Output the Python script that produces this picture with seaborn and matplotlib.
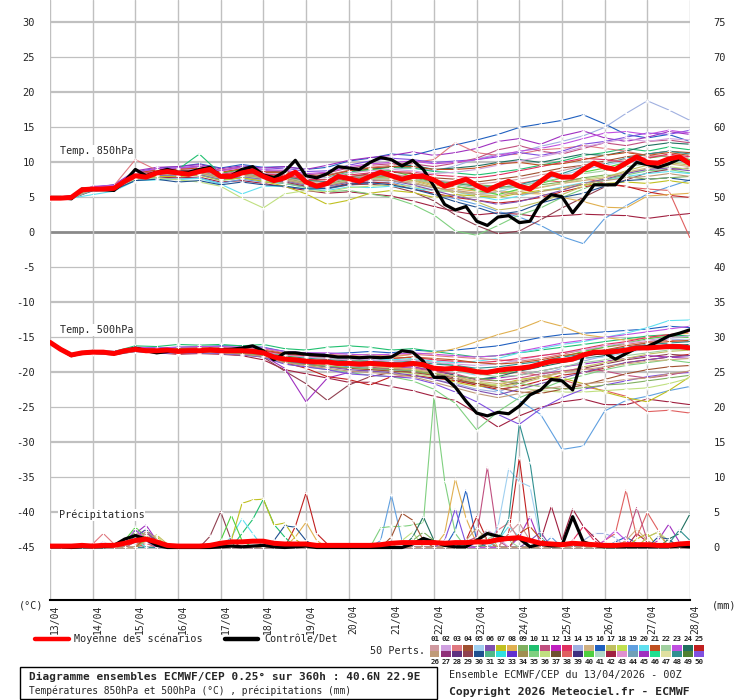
import numpy as np
import pandas as pd
import matplotlib.pyplot as plt
import matplotlib.transforms as mtransforms
from matplotlib.lines import Line2D
from matplotlib.patches import Rectangle
import seaborn as sns

sns.set_style("white")
plt.rcParams['font.family'] = ['DejaVu Sans Mono', 'DejaVu Sans']
plt.rcParams['axes.unicode_minus'] = False

# ---------------- data ----------------
dates = ["13/04", "14/04", "15/04", "16/04", "17/04", "18/04", "19/04", "20/04",
         "21/04", "22/04", "23/04", "24/04", "25/04", "26/04", "27/04", "28/04"]
hours6 = list(range(0, 361, 6))
hours12 = list(range(0, 361, 12))

palette_50 = ["#d09aa0", "#d0a0e0", "#e07880", "#a05030", "#a0d0f0", "#8050b0", "#c0c020", "#e0b050",
              "#80b060", "#20c070", "#c05080", "#c020c0", "#e03060", "#a0b0e0", "#d0b080", "#2060c0",
              "#c0c060", "#c0e050", "#60a0e0", "#60e0f0", "#c05020", "#a0d0a0", "#c050e0", "#207060",
              "#c02020", "#c09a78", "#903078", "#603080", "#904050", "#205090", "#50b888", "#30e0e0",
              "#6030d0", "#a09050", "#80d080", "#c0e080", "#705030", "#e06060", "#403080", "#50d040",
              "#b0d8c8", "#a02040", "#e090d0", "#70a0b8", "#a030c0", "#20e090", "#e0e0a0", "#309090",
              "#508030", "#8050e0"]

# ensemble mean / control, every 6h
mean_t850 = [4.9, 4.9, 5.0, 6.1, 6.2, 6.2, 6.3, 7.3, 8.1, 7.9, 8.5, 8.7, 8.5, 8.3, 8.7, 9.0,
             8.0, 8.0, 8.5, 8.8, 8.0, 7.4, 7.8, 8.6, 7.2, 6.6, 7.0, 8.0, 7.7, 7.3, 8.0, 8.6,
             8.1, 7.6, 8.0, 8.0, 7.5, 6.6, 7.1, 7.6, 6.7, 6.0, 6.7, 7.3, 6.6, 6.2, 7.3, 8.4,
             7.9, 7.9, 9.0, 9.9, 9.3, 9.0, 9.9, 10.8, 10.0, 9.9, 10.5, 10.8, 9.8]
ctrl_t850 = [5.0, 5.0, 4.8, 6.2, 6.1, 6.1, 6.0, 7.3, 9.0, 8.1, 8.6, 9.0, 8.6, 8.6, 9.0, 9.3,
             8.0, 8.1, 9.0, 9.4, 8.2, 7.8, 8.7, 10.3, 8.1, 7.8, 8.4, 9.4, 9.2, 9.0, 10.0, 10.7,
             10.4, 9.5, 10.3, 9.0, 6.6, 4.0, 3.2, 3.7, 1.6, 1.0, 2.2, 2.4, 1.4, 1.6, 4.2, 5.4,
             5.1, 2.8, 4.7, 6.8, 6.8, 6.8, 8.5, 10.0, 9.7, 9.3, 9.8, 10.5, 10.0]
mean_t500 = [-15.7, -16.7, -17.5, -17.2, -17.1, -17.1, -17.3, -16.9, -16.7, -16.9, -16.9, -16.8,
             -17.0, -16.9, -16.9, -16.8, -16.9, -16.9, -16.9, -17.0, -17.2, -17.8, -18.1, -18.2,
             -18.4, -18.5, -18.5, -18.7, -18.7, -18.8, -18.7, -18.8, -18.9, -18.9, -18.7, -18.9,
             -19.4, -19.5, -19.4, -19.6, -19.9, -20.0, -19.7, -19.5, -19.4, -19.2, -18.8, -18.4,
             -18.3, -18.1, -17.5, -17.1, -17.1, -17.0, -16.8, -16.5, -16.5, -16.4, -16.3, -16.3, -16.5]
ctrl_t500 = [-15.7, -16.7, -17.6, -17.2, -17.0, -17.1, -17.3, -17.0, -16.5, -16.9, -17.2, -17.0,
             -16.9, -17.0, -16.9, -16.7, -16.8, -16.7, -16.5, -16.2, -16.9, -18.2, -17.2, -17.2,
             -17.4, -17.5, -17.6, -17.8, -17.8, -17.9, -17.8, -17.9, -17.8, -16.9, -17.1, -18.4,
             -20.7, -20.7, -22.1, -24.1, -25.8, -26.2, -25.7, -25.9, -24.8, -23.2, -22.5, -21.0,
             -21.2, -22.5, -17.5, -17.3, -17.2, -18.1, -17.3, -16.5, -16.3, -15.6, -14.8, -14.4, -13.9]
mean_rr = [0.2, 0.2, 0.2, 0.3, 0.2, 0.3, 0.3, 0.6, 1.0, 1.2, 0.8, 0.3, 0.2, 0.2, 0.2, 0.3,
           0.6, 0.8, 0.8, 0.9, 0.9, 0.6, 0.5, 0.5, 0.5, 0.3, 0.3, 0.3, 0.3, 0.3, 0.3, 0.4,
           0.6, 0.7, 0.7, 0.7, 0.7, 0.6, 0.7, 0.7, 0.8, 0.8, 1.1, 1.3, 1.4, 1.0, 0.6, 0.5,
           0.4, 0.6, 0.5, 0.4, 0.3, 0.3, 0.4, 0.4, 0.4, 0.3, 0.3, 0.5, 0.6]
ctrl_rr = [0.1, 0.1, 0.0, 0.1, 0.1, 0.1, 0.3, 1.2, 1.7, 1.2, 0.3, 0.0, 0.0, 0.0, 0.0, 0.0,
           0.1, 0.2, 0.1, 0.2, 0.3, 0.1, 0.0, 0.1, 0.2, 0.0, 0.0, 0.0, 0.0, 0.0, 0.0, 0.0,
           0.0, 0.0, 0.5, 1.3, 0.8, 0.3, 0.1, 0.1, 1.0, 2.0, 1.6, 1.2, 1.3, 0.1, 0.5, 0.2,
           0.3, 4.4, 0.8, 0.3, 0.1, 0.1, 0.1, 0.1, 0.1, 0.1, 0.1, 0.2, 0.1]

# perturbed members (palette number), temperatures every 12h
member_ids = [16, 14, 42, 19, 38, 35, 29, 45, 25, 10, 8, 20, 7, 36, 24, 3, 30, 50, 40, 17, 11, 5, 4, 48,
              1, 2, 6, 9, 13, 15, 21, 22, 23, 26]

t850_members = [
    [4.9, 5.2, 6.4, 6.8, 8.6, 9.2, 9.4, 9.8, 9.2, 9.7, 9.3, 9.4, 9.0, 9.3, 10.2, 10.6, 11.2, 11.0, 11.8, 12.5, 13.2, 14.0, 15.0, 15.5, 16.0, 16.8, 15.5, 14.0, 13.5, 14.0, 13.0],
    [4.8, 5.0, 6.0, 6.2, 7.8, 8.0, 8.3, 8.4, 7.6, 8.2, 7.8, 7.2, 6.8, 7.1, 7.8, 8.5, 9.0, 9.3, 8.8, 9.5, 10.5, 11.2, 11.5, 12.3, 13.0, 13.8, 15.0, 17.0, 18.8, 17.5, 16.0],
    [4.9, 4.8, 6.0, 6.0, 7.6, 7.9, 7.8, 7.9, 7.2, 7.4, 7.0, 6.5, 6.0, 5.6, 5.8, 5.5, 5.2, 4.5, 3.7, 3.0, 2.5, 2.8, 2.6, 2.2, 2.4, 2.6, 2.5, 2.4, 2.0, 2.4, 2.7],
    [4.9, 5.0, 5.9, 6.2, 7.5, 7.8, 7.6, 7.8, 7.0, 7.6, 7.2, 7.0, 6.5, 6.2, 6.8, 7.0, 7.2, 6.5, 5.5, 4.8, 4.0, 3.0, 2.2, 1.0, -0.6, -1.6, 2.0, 3.8, 5.5, 6.5, 7.5],
    [5.0, 5.1, 6.3, 6.4, 8.3, 8.8, 8.6, 8.8, 8.2, 8.6, 8.2, 8.2, 7.6, 7.2, 8.0, 8.2, 8.0, 7.6, 7.0, 6.5, 6.2, 6.8, 7.0, 7.5, 7.2, 7.8, 7.0, 6.5, 6.2, 6.0, -0.8],
    [4.8, 4.9, 6.1, 6.0, 7.9, 8.2, 8.0, 8.2, 7.4, 7.8, 7.4, 7.0, 6.4, 5.8, 6.0, 5.5, 5.0, 4.0, 2.5, 0.2, -0.4, 1.0, 2.5, 3.5, 5.0, 6.2, 7.5, 8.2, 8.8, 9.0, 8.5],
    [4.9, 5.0, 6.2, 6.3, 8.0, 8.4, 8.2, 8.3, 7.6, 8.0, 7.5, 7.2, 6.6, 6.3, 6.8, 6.9, 6.6, 5.8, 4.5, 2.5, 1.0, -0.2, 0.2, 1.8, 3.5, 5.0, 6.5, 7.5, 8.5, 9.0, 9.2],
    [5.0, 5.2, 6.5, 6.8, 8.8, 9.3, 9.4, 9.7, 9.1, 9.5, 9.2, 9.4, 9.0, 9.6, 10.3, 10.7, 11.0, 11.5, 11.0, 11.4, 12.0, 13.0, 13.4, 12.6, 13.8, 14.5, 13.5, 13.0, 13.6, 14.4, 14.0],
    [4.8, 5.0, 6.1, 6.3, 8.0, 8.5, 8.4, 8.5, 7.8, 8.1, 7.6, 7.4, 6.8, 6.5, 7.0, 7.2, 7.0, 6.2, 5.6, 5.0, 4.6, 4.2, 4.5, 5.0, 5.8, 6.5, 7.0, 6.6, 5.8, 5.3, 5.0],
    [4.9, 5.1, 6.4, 6.5, 8.4, 8.9, 9.0, 11.2, 8.4, 9.0, 8.6, 8.5, 8.0, 7.9, 8.6, 9.0, 9.3, 9.2, 8.7, 8.5, 8.2, 8.6, 9.0, 9.6, 10.2, 11.0, 11.4, 12.0, 11.6, 12.2, 11.8],
    [4.9, 5.0, 6.2, 6.4, 8.1, 8.6, 8.5, 8.6, 7.9, 8.3, 7.9, 7.7, 7.1, 6.9, 7.5, 7.8, 7.9, 7.5, 6.8, 6.2, 5.9, 6.0, 5.6, 5.5, 5.0, 4.4, 3.6, 3.5, 5.2, 5.4, 5.6],
    [4.8, 4.9, 5.4, 5.9, 7.4, 7.5, 7.6, 7.7, 6.9, 5.5, 6.6, 6.6, 6.2, 6.0, 6.5, 6.4, 6.6, 6.3, 6.0, 5.8, 5.2, 4.6, 5.2, 5.9, 6.5, 7.1, 7.4, 8.0, 8.4, 8.7, 8.4],
    [4.9, 5.0, 6.0, 6.2, 7.7, 8.0, 8.0, 8.2, 7.5, 7.8, 7.3, 6.6, 5.5, 4.0, 4.6, 5.6, 6.0, 5.7, 5.0, 5.4, 5.2, 5.0, 5.6, 6.0, 6.2, 6.8, 7.0, 7.2, 7.0, 7.4, 7.0],
    [4.8, 4.9, 6.0, 6.1, 7.6, 7.8, 7.5, 7.2, 6.6, 4.9, 3.5, 5.5, 6.0, 5.8, 6.4, 6.6, 6.8, 6.6, 6.0, 5.8, 5.4, 5.6, 6.0, 6.5, 7.0, 7.6, 8.0, 8.6, 9.0, 9.4, 9.0],
    [4.9, 5.1, 6.3, 6.5, 8.3, 8.7, 8.8, 9.0, 8.5, 9.0, 8.8, 8.6, 8.1, 8.2, 8.8, 9.0, 9.4, 9.6, 9.0, 9.2, 9.5, 10.0, 10.4, 10.0, 10.6, 11.2, 11.0, 11.6, 12.4, 12.8, 12.6],
    [5.0, 5.1, 6.4, 6.7, 10.4, 8.9, 9.0, 9.1, 8.6, 9.0, 8.4, 8.6, 8.0, 8.2, 8.9, 9.3, 9.6, 10.0, 10.4, 12.8, 11.4, 11.0, 11.2, 11.8, 12.0, 12.4, 12.0, 11.6, 11.0, 10.8, 10.5],
    [4.8, 4.9, 6.0, 6.1, 7.4, 7.6, 7.2, 7.4, 6.8, 7.2, 6.8, 6.6, 6.2, 6.3, 6.9, 7.1, 6.8, 6.2, 5.4, 4.4, 3.6, 2.6, 3.0, 4.2, 5.0, 5.6, 6.6, 7.4, 7.6, 7.8, 7.4],
    [5.0, 5.2, 6.6, 6.6, 8.5, 9.0, 9.2, 9.5, 8.8, 9.4, 9.0, 9.2, 8.7, 8.8, 9.6, 10.2, 10.6, 10.4, 10.0, 10.2, 10.4, 10.8, 11.4, 11.0, 11.6, 12.6, 13.0, 13.6, 14.2, 14.0, 14.6],
    [4.9, 5.0, 6.2, 6.3, 8.2, 8.8, 8.6, 9.1, 8.5, 9.0, 8.2, 8.0, 7.4, 7.6, 8.4, 9.0, 8.8, 8.0, 7.2, 6.6, 6.0, 5.4, 6.2, 7.0, 7.8, 8.6, 9.2, 10.0, 10.6, 11.0, 10.4],
    [4.9, 5.0, 6.1, 6.2, 7.9, 8.2, 8.2, 8.4, 7.7, 8.2, 7.7, 7.5, 6.9, 6.6, 7.3, 7.6, 7.7, 7.4, 6.6, 5.6, 4.4, 3.2, 3.6, 4.4, 5.4, 6.6, 7.8, 8.8, 9.6, 10.0, 9.6],
    [5.0, 5.1, 6.4, 6.6, 8.5, 8.9, 9.1, 9.4, 8.9, 9.3, 8.7, 8.8, 8.2, 8.5, 9.2, 9.6, 9.8, 9.8, 9.4, 9.9, 10.6, 11.8, 12.4, 11.6, 11.2, 12.0, 12.8, 12.4, 13.0, 13.2, 12.8],
    [4.8, 4.9, 6.1, 6.2, 7.8, 8.2, 8.2, 8.3, 7.6, 8.0, 7.5, 7.4, 6.8, 6.5, 7.2, 7.4, 7.5, 7.0, 6.3, 6.0, 5.4, 5.8, 6.6, 7.4, 8.2, 9.0, 9.6, 10.2, 10.0, 10.4, 10.0],
    [4.9, 5.0, 6.3, 6.4, 8.1, 8.5, 8.6, 8.8, 8.1, 8.6, 8.2, 8.0, 7.4, 7.2, 7.9, 8.4, 8.6, 8.4, 7.8, 7.6, 7.2, 7.6, 8.0, 8.6, 9.2, 9.6, 10.2, 10.8, 11.2, 11.6, 11.4],
    [4.9, 5.0, 6.2, 6.4, 8.2, 8.6, 8.4, 8.8, 8.0, 8.6, 8.1, 7.9, 7.4, 7.2, 7.8, 8.0, 8.2, 8.0, 7.4, 7.0, 6.6, 6.4, 6.8, 7.6, 8.4, 9.4, 9.8, 10.6, 11.2, 11.6, 11.2],
    [4.9, 5.0, 6.2, 6.4, 8.2, 8.6, 8.6, 8.8, 8.1, 8.5, 8.0, 7.8, 7.3, 7.1, 7.8, 8.1, 8.3, 8.0, 7.5, 7.2, 6.9, 7.2, 7.6, 8.2, 8.8, 9.6, 10.0, 10.4, 10.8, 11.0, 10.6],
    [5.0, 5.1, 6.3, 6.5, 8.4, 8.8, 8.9, 9.0, 8.3, 8.8, 8.4, 8.3, 7.8, 7.8, 8.5, 8.8, 9.0, 8.8, 8.4, 8.6, 9.0, 9.6, 10.2, 10.8, 11.4, 12.2, 12.8, 13.4, 13.0, 13.4, 13.2],
    [4.8, 5.0, 6.1, 6.2, 7.8, 8.2, 8.1, 8.3, 7.6, 8.0, 7.6, 7.4, 6.8, 6.6, 7.2, 7.4, 7.4, 6.8, 6.0, 5.2, 4.6, 4.0, 4.4, 5.2, 6.0, 7.0, 7.6, 8.4, 9.0, 9.2, 8.8],
    [4.9, 5.0, 6.2, 6.3, 8.1, 8.4, 8.5, 8.6, 7.9, 8.4, 7.9, 7.7, 7.1, 6.9, 7.6, 7.9, 8.0, 7.8, 7.2, 7.0, 6.8, 6.6, 6.4, 6.8, 7.2, 7.8, 8.2, 8.0, 7.6, 7.8, 8.0],
    [4.9, 5.1, 6.3, 6.5, 8.3, 8.7, 8.7, 8.9, 8.3, 8.7, 8.3, 8.2, 7.6, 7.5, 8.2, 8.5, 8.7, 8.6, 8.2, 8.0, 7.8, 8.2, 8.8, 9.4, 10.0, 10.6, 10.4, 10.0, 10.6, 11.2, 10.8],
    [4.9, 5.0, 6.2, 6.4, 8.0, 8.5, 8.4, 8.6, 7.9, 8.3, 7.8, 7.6, 7.0, 6.8, 7.4, 7.7, 7.6, 7.2, 6.4, 5.8, 5.4, 5.2, 5.8, 6.4, 7.0, 7.4, 7.8, 8.6, 9.2, 9.8, 9.4],
    [5.0, 5.1, 6.4, 6.6, 8.5, 8.9, 9.0, 9.2, 8.6, 9.1, 8.6, 8.6, 8.0, 8.1, 8.8, 9.2, 9.4, 9.4, 9.0, 9.0, 9.2, 9.8, 10.0, 9.6, 9.8, 10.4, 11.0, 11.4, 11.0, 11.4, 11.0],
    [4.8, 4.9, 6.1, 6.2, 7.9, 8.3, 8.2, 8.4, 7.7, 8.1, 7.7, 7.5, 6.9, 6.8, 7.4, 7.6, 7.8, 7.6, 7.0, 6.8, 6.4, 6.2, 6.6, 7.2, 7.8, 8.4, 8.8, 9.4, 9.8, 10.2, 9.8],
    [5.0, 5.2, 6.5, 6.7, 8.6, 9.1, 9.2, 9.4, 8.8, 9.3, 8.9, 8.9, 8.4, 8.6, 9.4, 9.8, 10.0, 10.2, 9.8, 10.0, 10.4, 11.0, 11.6, 12.0, 12.6, 13.4, 14.2, 14.4, 14.0, 14.6, 14.2],
    [4.9, 5.0, 6.1, 6.3, 8.0, 8.4, 8.3, 8.5, 7.8, 8.2, 7.8, 7.5, 6.9, 6.7, 7.3, 7.5, 7.4, 7.0, 6.4, 6.0, 5.6, 5.8, 5.4, 5.8, 6.4, 7.0, 7.4, 7.8, 8.0, 8.4, 8.0],
]

t500_members = [
    [-15.7, -17.4, -17.0, -17.0, -16.4, -16.5, -16.4, -16.3, -16.2, -16.2, -16.4, -17.0, -17.2, -17.3, -17.2, -17.0, -17.2, -16.8, -17.0, -16.8, -16.5, -16.2, -15.6, -15.0, -14.6, -14.4, -14.2, -14.0, -13.8, -13.4, -13.6],
    [-15.7, -17.5, -17.2, -17.4, -16.9, -17.0, -17.2, -17.0, -17.0, -17.2, -17.6, -18.6, -19.0, -19.6, -20.0, -19.8, -20.2, -20.4, -21.0, -21.6, -22.4, -22.8, -21.6, -20.4, -19.4, -18.4, -17.6, -16.6, -15.6, -15.2, -15.4],
    [-15.8, -17.6, -17.3, -17.5, -17.0, -17.2, -17.4, -17.3, -17.4, -17.6, -18.2, -19.6, -20.2, -20.8, -21.4, -21.4, -22.0, -22.6, -23.4, -24.0, -25.8, -27.8, -26.2, -25.0, -24.2, -23.8, -24.6, -24.6, -23.8, -24.2, -24.6],
    [-15.7, -17.5, -17.1, -17.3, -16.8, -17.0, -17.2, -17.1, -17.1, -17.4, -17.6, -18.2, -18.6, -18.8, -19.2, -19.4, -19.6, -19.8, -20.4, -21.0, -21.8, -22.6, -24.0, -26.0, -31.0, -30.5, -25.5, -24.0, -23.4, -22.6, -22.0],
    [-15.7, -17.5, -17.2, -17.3, -16.8, -17.0, -17.1, -17.0, -17.0, -17.1, -17.4, -18.3, -18.7, -18.9, -19.0, -19.2, -19.0, -19.2, -19.6, -19.4, -19.8, -20.2, -20.0, -20.4, -21.0, -22.0, -22.6, -23.4, -25.6, -25.4, -25.8],
    [-15.8, -17.6, -17.2, -17.4, -16.9, -17.1, -17.2, -17.2, -17.3, -17.5, -17.8, -18.8, -19.2, -19.6, -20.0, -20.4, -20.6, -21.2, -22.4, -24.4, -28.2, -25.6, -23.6, -22.4, -21.2, -20.4, -19.6, -19.0, -18.6, -18.2, -18.6],
    [-15.7, -17.4, -17.0, -17.2, -16.8, -17.0, -17.1, -17.0, -17.1, -17.3, -17.8, -19.8, -21.6, -24.0, -21.8, -20.6, -20.0, -19.8, -20.2, -20.8, -21.6, -22.0, -21.4, -20.6, -20.0, -19.4, -18.8, -18.2, -17.8, -17.4, -17.6],
    [-15.7, -17.5, -17.1, -17.2, -16.7, -16.9, -17.0, -16.9, -17.0, -17.2, -17.6, -19.4, -24.2, -20.8, -20.0, -19.6, -19.4, -19.2, -19.8, -20.4, -21.0, -20.8, -20.4, -19.8, -19.2, -18.8, -18.4, -18.0, -17.6, -17.8, -18.0],
    [-15.7, -17.5, -17.1, -17.3, -16.9, -17.0, -17.1, -17.0, -17.1, -17.3, -17.6, -18.6, -19.4, -20.6, -21.0, -21.8, -20.6, -20.4, -20.8, -21.2, -21.8, -22.4, -22.0, -21.2, -20.4, -20.0, -19.4, -18.6, -18.2, -17.8, -17.4],
    [-15.6, -17.3, -16.9, -17.0, -16.2, -16.3, -16.0, -16.1, -16.0, -16.2, -16.0, -16.6, -16.8, -16.4, -16.2, -16.4, -16.8, -16.6, -17.0, -17.4, -17.8, -17.6, -17.2, -16.8, -16.4, -16.0, -15.6, -15.2, -14.8, -14.6, -14.8],
    [-15.7, -17.4, -17.0, -17.1, -16.6, -16.7, -16.8, -16.6, -16.6, -16.7, -16.9, -17.4, -17.6, -17.8, -17.6, -17.4, -17.8, -17.4, -17.2, -16.6, -15.6, -14.6, -13.8, -12.6, -13.4, -14.6, -15.0, -15.4, -15.0, -14.6, -14.4],
    [-15.7, -17.5, -17.1, -17.2, -16.7, -16.8, -16.9, -16.8, -16.8, -16.9, -17.0, -17.6, -17.8, -17.9, -18.0, -18.0, -18.2, -18.0, -18.4, -18.6, -18.4, -18.0, -17.2, -16.6, -16.0, -15.6, -15.0, -14.4, -13.6, -12.6, -12.5],
    [-15.7, -17.5, -17.1, -17.3, -16.8, -17.0, -17.0, -16.9, -16.9, -17.0, -17.3, -18.2, -18.4, -18.6, -18.8, -18.8, -19.2, -19.6, -20.4, -21.4, -22.0, -21.8, -21.0, -20.6, -20.8, -21.6, -22.8, -23.6, -24.2, -22.6, -20.6],
    [-15.7, -17.5, -17.2, -17.3, -16.9, -17.0, -17.1, -17.0, -17.0, -17.2, -17.5, -18.4, -18.8, -19.0, -19.4, -19.6, -19.8, -20.2, -20.6, -21.0, -21.4, -21.8, -22.2, -22.6, -22.8, -22.8, -22.6, -22.4, -22.2, -21.6, -20.8],
    [-15.7, -17.4, -17.0, -17.1, -16.6, -16.8, -16.8, -16.7, -16.7, -16.8, -17.0, -17.6, -18.0, -18.2, -18.4, -18.2, -18.6, -18.8, -19.6, -20.4, -21.0, -20.6, -19.8, -19.2, -18.6, -18.0, -17.6, -17.0, -16.6, -16.2, -16.0],
    [-15.7, -17.4, -17.0, -17.1, -16.5, -16.6, -16.5, -16.4, -16.4, -16.5, -16.6, -17.2, -17.4, -17.4, -17.6, -17.8, -17.6, -17.4, -17.6, -17.8, -18.0, -18.2, -18.4, -18.0, -17.4, -16.8, -16.4, -16.0, -15.6, -15.4, -15.6],
    [-15.7, -17.5, -17.1, -17.3, -16.8, -16.9, -17.0, -16.9, -16.9, -17.0, -17.2, -17.9, -18.2, -18.4, -18.6, -18.6, -18.8, -18.6, -19.2, -19.4, -19.8, -19.6, -19.2, -18.8, -18.2, -17.4, -17.0, -16.6, -16.4, -16.0, -16.2],
    [-15.7, -17.6, -17.2, -17.4, -17.0, -17.2, -17.3, -17.2, -17.3, -17.5, -17.8, -18.8, -19.2, -19.6, -20.2, -20.4, -20.6, -20.8, -21.6, -22.8, -24.2, -26.0, -27.4, -25.2, -23.6, -22.4, -21.8, -21.2, -20.6, -20.2, -20.0],
    [-15.7, -17.4, -17.0, -17.1, -16.5, -16.7, -16.7, -16.6, -16.6, -16.8, -17.0, -17.6, -17.8, -18.0, -18.2, -18.4, -18.4, -18.2, -18.6, -19.0, -19.6, -20.2, -19.6, -18.6, -17.8, -17.0, -16.4, -15.8, -15.2, -14.8, -15.0],
    [-15.7, -17.5, -17.1, -17.2, -16.8, -16.9, -17.0, -16.8, -16.9, -17.0, -17.3, -18.0, -18.4, -18.8, -19.0, -19.2, -19.4, -19.6, -20.0, -20.6, -21.4, -22.0, -21.6, -20.8, -20.0, -19.2, -18.6, -18.0, -17.4, -17.0, -16.8],
    [-15.7, -17.5, -17.1, -17.3, -16.9, -17.0, -17.1, -17.0, -17.0, -17.1, -17.4, -18.2, -18.6, -18.8, -19.0, -19.2, -19.6, -19.4, -19.8, -20.2, -21.0, -21.2, -20.8, -20.2, -19.8, -19.4, -19.8, -20.4, -20.8, -20.4, -19.8],
    [-15.7, -17.4, -17.0, -17.2, -16.6, -16.8, -16.8, -16.7, -16.8, -16.9, -17.0, -17.4, -17.6, -17.8, -18.0, -18.2, -18.4, -18.6, -19.2, -19.8, -20.4, -20.0, -19.4, -18.6, -18.2, -18.0, -17.8, -17.2, -16.6, -16.4, -16.2],
    [-15.7, -17.5, -17.1, -17.3, -16.8, -17.0, -17.0, -16.9, -17.0, -17.1, -17.4, -18.4, -18.8, -19.2, -19.4, -19.6, -19.8, -20.0, -20.4, -21.0, -21.6, -22.2, -22.8, -23.0, -22.4, -21.8, -21.0, -20.2, -19.6, -19.2, -19.0],
    [-15.7, -17.5, -17.1, -17.2, -16.7, -16.9, -16.9, -16.8, -16.8, -16.9, -17.1, -17.8, -18.0, -18.2, -18.4, -18.4, -18.6, -18.4, -18.8, -19.0, -19.4, -19.2, -18.8, -18.4, -17.8, -17.4, -16.8, -16.4, -16.0, -15.8, -15.6],
    [-15.7, -17.5, -17.1, -17.2, -16.7, -16.8, -16.9, -16.8, -16.8, -17.0, -17.2, -17.8, -18.1, -18.3, -18.5, -18.6, -18.8, -18.7, -19.2, -19.6, -20.0, -19.8, -19.4, -19.0, -18.4, -17.8, -17.2, -16.8, -16.4, -16.2, -16.4],
    [-15.7, -17.4, -17.0, -17.2, -16.6, -16.8, -16.8, -16.7, -16.7, -16.8, -17.0, -17.5, -17.8, -18.0, -18.2, -18.2, -18.4, -18.2, -18.6, -18.8, -19.0, -18.8, -18.2, -17.6, -17.2, -16.8, -16.2, -15.8, -15.4, -15.0, -14.8],
    [-15.7, -17.5, -17.1, -17.3, -16.8, -17.0, -17.1, -17.0, -17.0, -17.2, -17.5, -18.4, -18.8, -19.2, -19.6, -19.8, -20.0, -20.4, -21.0, -21.8, -22.6, -23.2, -22.4, -21.6, -20.8, -20.0, -19.2, -18.6, -18.2, -17.8, -17.6],
    [-15.7, -17.5, -17.2, -17.3, -16.9, -17.1, -17.2, -17.1, -17.1, -17.3, -17.6, -18.5, -18.9, -19.1, -19.3, -19.4, -19.6, -19.8, -20.2, -20.6, -20.8, -21.2, -21.6, -22.0, -22.4, -22.2, -21.8, -21.6, -21.2, -20.8, -20.4],
    [-15.7, -17.4, -17.0, -17.1, -16.6, -16.7, -16.7, -16.6, -16.6, -16.7, -16.9, -17.4, -17.6, -17.8, -17.9, -18.0, -18.0, -17.8, -18.2, -18.4, -18.6, -18.4, -18.0, -17.6, -17.2, -16.6, -16.0, -15.6, -15.0, -14.6, -14.2],
    [-15.7, -17.5, -17.1, -17.3, -16.8, -16.9, -17.0, -16.9, -17.0, -17.1, -17.4, -18.2, -18.5, -18.7, -18.9, -19.1, -19.3, -19.5, -20.0, -20.6, -21.2, -21.6, -21.2, -20.6, -20.0, -19.6, -19.2, -18.8, -18.4, -18.2, -18.0],
    [-15.7, -17.4, -17.0, -17.1, -16.5, -16.6, -16.6, -16.5, -16.5, -16.6, -16.8, -17.3, -17.5, -17.6, -17.8, -17.9, -18.0, -17.8, -18.0, -18.2, -18.6, -18.8, -18.6, -18.2, -17.6, -17.2, -16.8, -16.2, -15.8, -15.6, -15.4],
    [-15.7, -17.5, -17.1, -17.3, -16.8, -17.0, -17.0, -16.9, -16.9, -17.1, -17.3, -18.1, -18.4, -18.6, -18.8, -18.9, -19.1, -19.0, -19.4, -19.8, -20.2, -20.6, -20.4, -19.8, -19.2, -18.6, -18.2, -17.6, -17.2, -16.8, -16.6],
    [-15.6, -17.4, -16.9, -17.0, -16.4, -16.5, -16.4, -16.3, -16.3, -16.4, -16.5, -17.0, -17.2, -17.2, -17.4, -17.5, -17.4, -17.2, -17.4, -17.6, -17.8, -17.6, -17.0, -16.4, -15.8, -15.4, -15.0, -14.6, -14.2, -13.8, -13.4],
    [-15.7, -17.6, -17.2, -17.4, -17.0, -17.1, -17.2, -17.1, -17.2, -17.4, -17.7, -18.6, -19.0, -19.4, -19.8, -20.0, -20.2, -20.6, -21.4, -22.2, -23.0, -23.6, -23.0, -22.4, -22.0, -21.6, -21.4, -21.0, -20.8, -20.2, -19.8],
]

# precipitation of the members: {hour: mm}, other 6h steps are dry
rr_members = [
    {228: 2.5, 234: 8.2, 240: 1.0, 318: 0.8, 324: 1.5, 330: 0.6},
    {54: 0.8, 300: 1.0, 306: 2.0, 312: 2.0, 318: 1.4},
    {48: 0.8, 276: 1.0, 282: 5.9, 288: 1.0, 294: 5.5, 300: 3.0, 306: 1.5, 330: 2.0, 336: 0.8},
    {48: 1.0, 186: 1.0, 192: 7.5, 198: 1.0, 282: 1.5},
    {54: 0.6, 312: 1.0, 318: 2.0, 324: 8.2, 330: 1.5, 336: 5.0, 342: 2.5},
    {48: 1.2, 186: 2.8, 192: 3.0, 198: 3.0, 204: 3.2, 210: 3.5, 216: 21.5, 222: 9.5, 228: 2.0},
    {90: 1.6, 96: 5.1, 102: 1.0, 246: 0.8},
    {48: 2.0, 54: 3.2, 60: 1.0, 264: 1.5, 270: 4.4, 276: 0.5, 342: 1.0, 348: 3.3, 354: 0.8},
    {138: 3.0, 144: 7.8, 150: 2.0, 156: 0.5, 234: 1.0, 240: 4.4, 246: 1.0, 258: 2.0, 264: 12.8, 270: 1.0},
    {48: 2.5, 54: 1.0, 108: 2.0, 114: 4.0, 120: 6.9, 126: 3.3, 132: 1.5},
    {138: 1.5, 144: 3.6, 150: 1.0, 222: 2.0, 228: 9.8, 234: 4.2, 240: 0.5},
    {42: 0.8, 48: 1.2, 102: 1.5, 108: 4.1, 114: 2.0, 252: 1.0, 258: 3.0, 264: 1.5},
    {54: 1.0, 60: 1.6, 102: 1.0, 108: 6.3, 114: 6.8, 120: 6.9, 126: 3.2, 132: 3.5, 138: 1.2, 330: 1.2, 336: 2.0},
    {54: 1.8, 60: 0.6, 198: 1.0, 204: 2.2, 336: 1.5, 342: 2.2, 348: 1.0},
    {204: 1.5, 210: 4.4, 216: 1.0, 348: 1.2, 354: 2.0, 360: 4.8},
    {24: 0.5, 30: 2.0, 36: 0.5, 252: 2.5, 258: 3.5, 264: 1.0},
    {48: 1.5, 54: 2.6, 60: 1.0, 126: 1.0, 132: 3.1, 138: 2.9, 144: 1.0, 342: 1.5, 348: 1.2},
    {48: 1.2, 54: 2.2, 60: 0.8, 222: 1.0, 228: 5.5, 234: 0.5},
    {42: 1.0, 48: 2.9, 54: 1.5, 96: 1.0, 102: 4.6, 108: 1.0},
    {54: 1.0, 60: 1.8, 66: 0.5, 240: 1.2, 246: 2.5, 336: 1.5, 342: 2.2},
    {234: 0.8, 240: 1.5, 246: 11.5, 252: 1.0, 324: 1.0, 330: 5.7, 336: 1.0},
    {252: 3.0, 258: 11.2, 264: 9.4, 270: 8.7, 276: 1.0},
    {54: 2.0, 60: 1.0, 192: 1.5, 198: 4.9, 204: 3.9, 210: 1.0},
    {246: 0.5, 252: 1.0, 258: 4.0, 264: 17.7, 270: 12.2, 276: 1.5, 348: 0.5, 354: 2.5, 360: 1.0},
    {48: 1.5, 54: 2.0, 60: 0.5, 258: 2.0, 264: 3.5, 270: 1.0},
    {30: 0.8, 48: 1.0, 54: 1.4, 240: 1.0, 246: 2.5, 252: 1.5},
    {48: 1.8, 54: 2.4, 60: 0.6, 270: 1.0, 276: 2.2},
    {54: 1.2, 204: 1.0, 210: 2.2, 216: 1.0},
    {48: 1.0, 54: 1.6, 294: 1.0, 300: 3.0, 306: 1.0},
    {48: 2.2, 54: 1.2, 324: 1.0, 330: 2.6, 336: 1.0},
    {54: 1.5, 60: 1.0, 264: 2.0, 270: 3.0, 276: 1.2},
    {48: 1.4, 54: 1.8, 246: 1.2, 252: 2.0, 258: 1.0},
    {42: 0.6, 48: 2.6, 54: 1.0, 312: 1.0, 318: 2.4, 324: 1.0},
    {54: 2.4, 60: 1.2, 234: 1.0, 240: 2.8, 246: 1.0},
]

# ---------------- tables for seaborn ----------------
labels = ["%02d" % m for m in member_ids]
member_pal = {"%02d" % m: palette_50[m - 1] for m in member_ids}

df_t850 = pd.DataFrame({"hour": np.tile(hours12, len(labels)),
                        "value": np.concatenate(t850_members),
                        "member": np.repeat(labels, len(hours12))})
df_t500 = pd.DataFrame({"hour": np.tile(hours12, len(labels)),
                        "value": np.concatenate(t500_members),
                        "member": np.repeat(labels, len(hours12))})
df_rr = pd.DataFrame({"hour": np.tile(hours6, len(labels)),
                      "value": [d.get(h, 0.0) for d in rr_members for h in hours6],
                      "member": np.repeat(labels, len(hours6))})

# ---------------- figure ----------------
W, H = 740, 700
fig = plt.figure(figsize=(W / 100, H / 100), dpi=100)


def fx(px):
    return px / W


def fy(py):
    return 1 - py / H


ax = fig.add_axes([fx(50), fy(600), 640 / W, 600 / H])
ax2 = ax.twinx()
lo, hi = -52.5, 33.2
ax.set_xlim(0, 360)
ax.set_ylim(lo, hi)
ax2.set_ylim(lo + 45, hi + 45)

# grid
for v in range(-45, 31, 5):
    if v == 0:
        ax.axhline(v, color="#8a8a8a", lw=2.0, zorder=0)
    else:
        ax.axhline(v, color="#c0c0c0", lw=1.6 if v % 10 == 0 else 0.9, zorder=0)
for h in range(0, 361, 24):
    ax.axvline(h, color="#c0c0c0", lw=1.0, zorder=0)

line_kw = dict(lw=0.8, marker="+", markersize=3, markeredgewidth=0.6,
               legend=False, estimator=None)
sns.lineplot(data=df_t850, x="hour", y="value", hue="member", palette=member_pal, ax=ax, **line_kw)
sns.lineplot(data=df_t500, x="hour", y="value", hue="member", palette=member_pal, ax=ax, **line_kw)
sns.lineplot(data=df_rr, x="hour", y="value", hue="member", palette=member_pal, ax=ax2, **line_kw)

for ser, axx in [(ctrl_t850, ax), (ctrl_t500, ax), (ctrl_rr, ax2)]:
    sns.lineplot(x=hours6, y=ser, color="black", lw=2.3, ax=axx, zorder=5)
for ser, axx in [(mean_t850, ax), (mean_t500, ax), (mean_rr, ax2)]:
    sns.lineplot(x=hours6, y=ser, color="#ff0000", lw=3.6, ax=axx, zorder=6)

# axes cosmetics
for a in (ax, ax2):
    for s in a.spines.values():
        s.set_visible(False)
    a.set_xlabel("")
    a.set_ylabel("")
ax.spines["bottom"].set_visible(True)
ax.spines["bottom"].set_color("black")
ax.spines["bottom"].set_linewidth(1.5)

ax.set_yticks(range(-45, 31, 5))
ax2.set_yticks(range(0, 76, 5))
ax.tick_params(axis="y", length=0, pad=11, labelsize=7.5)
ax2.tick_params(axis="y", length=0, pad=17, labelsize=7.5)

ax.set_xticks(range(0, 361, 24))
ax.set_xticklabels(dates, rotation=90, fontsize=7)
ax.tick_params(axis="x", length=0, pad=3)
shift = mtransforms.ScaledTranslation(5 / 100, 0, fig.dpi_scale_trans)
for lab in ax.get_xticklabels():
    lab.set_transform(lab.get_transform() + shift)
    lab.set_va("top")

# panel labels
box = dict(facecolor="white", edgecolor="none", pad=0.5)
fig.text(fx(60), fy(151), "Temp. 850hPa", fontsize=7.3, va="center", bbox=box)
fig.text(fx(60), fy(330), "Temp. 500hPa", fontsize=7.3, va="center", bbox=box)
fig.text(fx(59), fy(515), "Précipitations", fontsize=7.3, va="center", bbox=box)

fig.text(fx(31), fy(606), "(°C)", fontsize=7.3, ha="center", va="center")
fig.text(fx(724), fy(606), "(mm)", fontsize=7.3, ha="center", va="center")

# legend
fig.add_artist(Line2D([fx(35), fx(69)], [fy(639), fy(639)], color="#ff0000", lw=3.2,
                      transform=fig.transFigure))
fig.text(fx(74), fy(639), "Moyenne des scénarios", fontsize=7.3, va="center")
fig.add_artist(Line2D([fx(225), fx(258)], [fy(639), fy(639)], color="black", lw=3.2,
                      transform=fig.transFigure))
fig.text(fx(264), fy(639), "Contrôle/Det", fontsize=7.3, va="center")

fig.text(fx(370), fy(651), "50 Perts.", fontsize=7.3, va="center")
for i, c in enumerate(palette_50):
    col, row = i % 25, i // 25
    x0 = 430 + col * 11
    fig.add_artist(Rectangle((fx(x0), fy(651 + row * 6)), 9.5 / W, 6.5 / H,
                             facecolor=c, edgecolor="none", transform=fig.transFigure))
    ty = 639 if row == 0 else 662
    fig.text(fx(x0 + 5), fy(ty), "%02d" % (i + 1), fontsize=5.4, fontweight="bold",
             ha="center", va="center")

# info box
fig.add_artist(Rectangle((fx(20), fy(699)), 417 / W, 32 / H, facecolor="none",
                         edgecolor="black", lw=1.0, transform=fig.transFigure))
fig.text(fx(29), fy(677), "Diagramme ensembles ECMWF/CEP 0.25° sur 360h : 40.6N 22.9E",
         fontsize=8.0, fontweight="bold", va="center")
fig.text(fx(29), fy(691), "Températures 850hPa et 500hPa (°C) , précipitations (mm)",
         fontsize=6.9, va="center")
fig.text(fx(449), fy(675), "Ensemble ECMWF/CEP du 13/04/2026 - 00Z", fontsize=7.3, va="center")
fig.text(fx(449), fy(692), "Copyright 2026 Meteociel.fr - ECMWF", fontsize=8.2,
         fontweight="bold", va="center")

fig.savefig("out.png", dpi=100)
